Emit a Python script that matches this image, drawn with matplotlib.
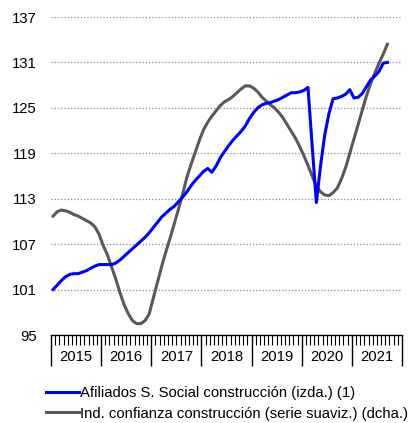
import matplotlib
matplotlib.use("Agg")
import matplotlib.pyplot as plt
import matplotlib.transforms as mtransforms
import numpy as np

plt.rcParams['font.family'] = ['Liberation Sans', 'DejaVu Sans']

# monthly, Jan 2015 .. Sep 2021
afiliados = [101.0, 101.6, 102.2, 102.7, 103.0, 103.1, 103.1, 103.3, 103.5, 103.8, 104.1, 104.3,
             104.3, 104.3, 104.3, 104.5, 104.9, 105.4, 105.9, 106.4, 106.9, 107.4, 107.9, 108.5,
             109.2, 109.9, 110.6, 111.1, 111.6, 112.0, 112.6, 113.2, 113.9, 114.7, 115.4, 116.0,
             116.6, 117.0, 116.5, 117.3, 118.4, 119.2, 120.0, 120.7, 121.3, 121.9, 122.6, 123.6,
             124.4, 125.0, 125.4, 125.6, 125.7, 125.9, 126.1, 126.4, 126.7, 127.0, 127.0, 127.1,
             127.3, 127.7, 120.0, 112.5, 117.3, 121.4, 124.2, 126.2, 126.3, 126.5, 126.8, 127.4,
             126.3, 126.4, 126.9, 127.8, 128.7, 129.2, 129.8, 130.9, 131.0]
confianza = [110.7, 111.3, 111.5, 111.4, 111.2, 110.9, 110.7, 110.4, 110.1, 109.8, 109.3, 108.3,
             106.8, 105.6, 104.0, 102.4, 100.6, 99.0, 97.8, 96.9, 96.5, 96.5, 96.9, 97.8,
             99.9, 102.0, 104.1, 106.0, 107.8, 109.7, 111.6, 113.6, 115.8, 117.5, 119.1, 120.7,
             122.1, 123.1, 123.9, 124.6, 125.3, 125.8, 126.1, 126.5, 127.0, 127.5, 127.9, 127.9,
             127.6, 127.1, 126.4, 125.9, 125.4, 125.0, 124.4, 123.7, 122.8, 121.9, 121.0, 119.9,
             118.7, 117.4, 116.0, 114.7, 113.9, 113.5, 113.4, 113.8, 114.4, 115.6, 117.1, 119.0,
             120.9, 122.8, 124.7, 126.6, 128.2, 129.6, 130.9, 132.1, 133.4]
years = ['2015', '2016', '2017', '2018', '2019', '2020', '2021']
yticks = [95, 101, 107, 113, 119, 125, 131, 137]

fs = 10.7
fig = plt.figure(figsize=(4.10, 4.23), dpi=100)
ax = fig.add_axes([51/410, 1-335/423, 351/410, (335-17)/423])

x = np.arange(len(afiliados)) + 0.5
ax.plot(x, afiliados, color='#0000ff', lw=2.2, label='Afiliados S. Social construcción (izda.) (1)',
        zorder=3, solid_joinstyle='round')
ax.plot(x, confianza, color='#595959', lw=2.2, label='Ind. confianza construcción (serie suaviz.) (dcha.)',
        zorder=2, solid_joinstyle='round')

ax.set_xlim(0, 12*len(years))
ax.set_ylim(95, 137)
ax.set_yticks(yticks)
ax.tick_params(axis='y', length=0, labelsize=fs, pad=10.5)
for v in yticks[1:]:
    ax.axhline(v, color='#8c8c8c', lw=0.9, ls=(0, (1, 1.6)), zorder=1)

for s in ['top', 'right', 'left']:
    ax.spines[s].set_visible(False)
ax.spines['bottom'].set_linewidth(1.0)

ax.set_xticks(np.arange(0, 12*len(years)+1, 12))
ax.set_xticks(np.arange(0, 12*len(years)+1, 1), minor=True)
ax.set_xticklabels([])
ax.tick_params(axis='x', which='major', length=22, width=1.0, color='black')
ax.tick_params(axis='x', which='minor', length=7, width=0.8, color='black')

trans = mtransforms.blended_transform_factory(ax.transData, fig.transFigure)
for i, yr in enumerate(years):
    ax.text(12*i + 6, 1-357/423, yr, transform=trans, ha='center', va='center', fontsize=fs)

fig.legend(loc='upper left', bbox_to_anchor=(46/410, 1-386/423), frameon=False,
           fontsize=fs, handlelength=2.2, handletextpad=0.1, labelspacing=0.45,
           borderpad=0, borderaxespad=0)

fig.savefig('out.png', dpi=100)
